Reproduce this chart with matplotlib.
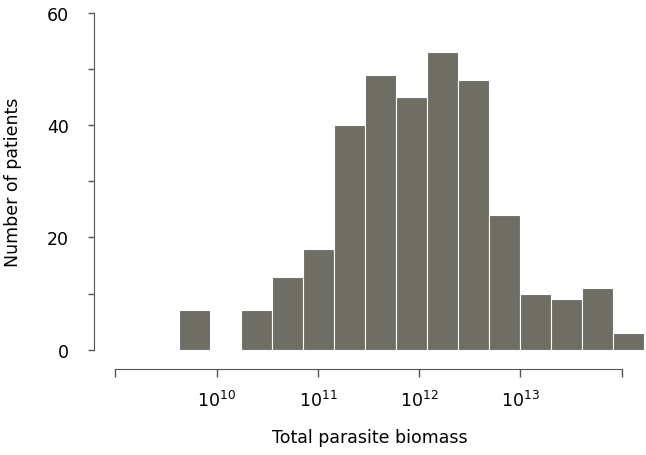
import numpy as np
import matplotlib
matplotlib.use("Agg")
import matplotlib.pyplot as plt
from matplotlib.ticker import FixedLocator, NullLocator, FixedFormatter

# Histogram data (log10 of biomass bin edges, counts per bin)
log_bin_start = 9.63
log_bin_width = 0.306
counts = [7, 0, 7, 13, 18, 40, 49, 45, 53, 48, 24, 10, 9, 11, 3]
y_ticks = [0, 10, 20, 30, 40, 50, 60]
y_tick_labels = ["0", "", "20", "", "40", "", "60"]
x_tick_exps = [9, 10, 11, 12, 13, 14]
x_tick_labels = ["", r"$10^{10}$", r"$10^{11}$", r"$10^{12}$", r"$10^{13}$", ""]

plt.rcParams['font.family'] = ['DejaVu Sans']
plt.rcParams['mathtext.fontset'] = 'custom'
plt.rcParams['mathtext.rm'] = 'DejaVu Sans'

fig = plt.figure(figsize=(6.46, 4.56), dpi=100)
ax = fig.add_axes([94/646, (456-350.7)/456, (646-94)/646, (350.7-14)/456])

edges_log = log_bin_start + log_bin_width * np.arange(len(counts) + 1)
edges = 10 ** edges_log
ax.bar(edges[:-1], counts, width=np.diff(edges), align='edge',
       color='#6e6e64', edgecolor='white', linewidth=0.8)

ax.set_xscale('log')
ax.set_xlim(10 ** 8.79, 10 ** 14.24)
ax.set_ylim(0, 60)

spine_col = '#555555'
for s in ['top', 'right']:
    ax.spines[s].set_visible(False)
ax.spines['left'].set_color(spine_col)
ax.spines['bottom'].set_color(spine_col)
ax.spines['left'].set_bounds(0, 60)
ax.spines['bottom'].set_position(('outward', 14))
ax.spines['bottom'].set_bounds(10 ** 9, 10 ** 14)

ax.xaxis.set_major_locator(FixedLocator([10.0 ** e for e in x_tick_exps]))
ax.xaxis.set_major_formatter(FixedFormatter(x_tick_labels))
ax.xaxis.set_minor_locator(NullLocator())
ax.yaxis.set_major_locator(FixedLocator(y_ticks))
ax.yaxis.set_major_formatter(FixedFormatter(y_tick_labels))

ax.tick_params(axis='y', direction='out', length=4, width=1, color=spine_col,
               pad=14, labelsize=12.5)
ax.tick_params(axis='x', direction='out', length=6, width=1, color=spine_col,
               pad=9, labelsize=12.5)

ax.set_xlabel("Total parasite biomass", fontsize=12.5, labelpad=13)
ax.set_ylabel("Number of patients", fontsize=12.5, labelpad=18)

fig.savefig("out.png", dpi=100)
